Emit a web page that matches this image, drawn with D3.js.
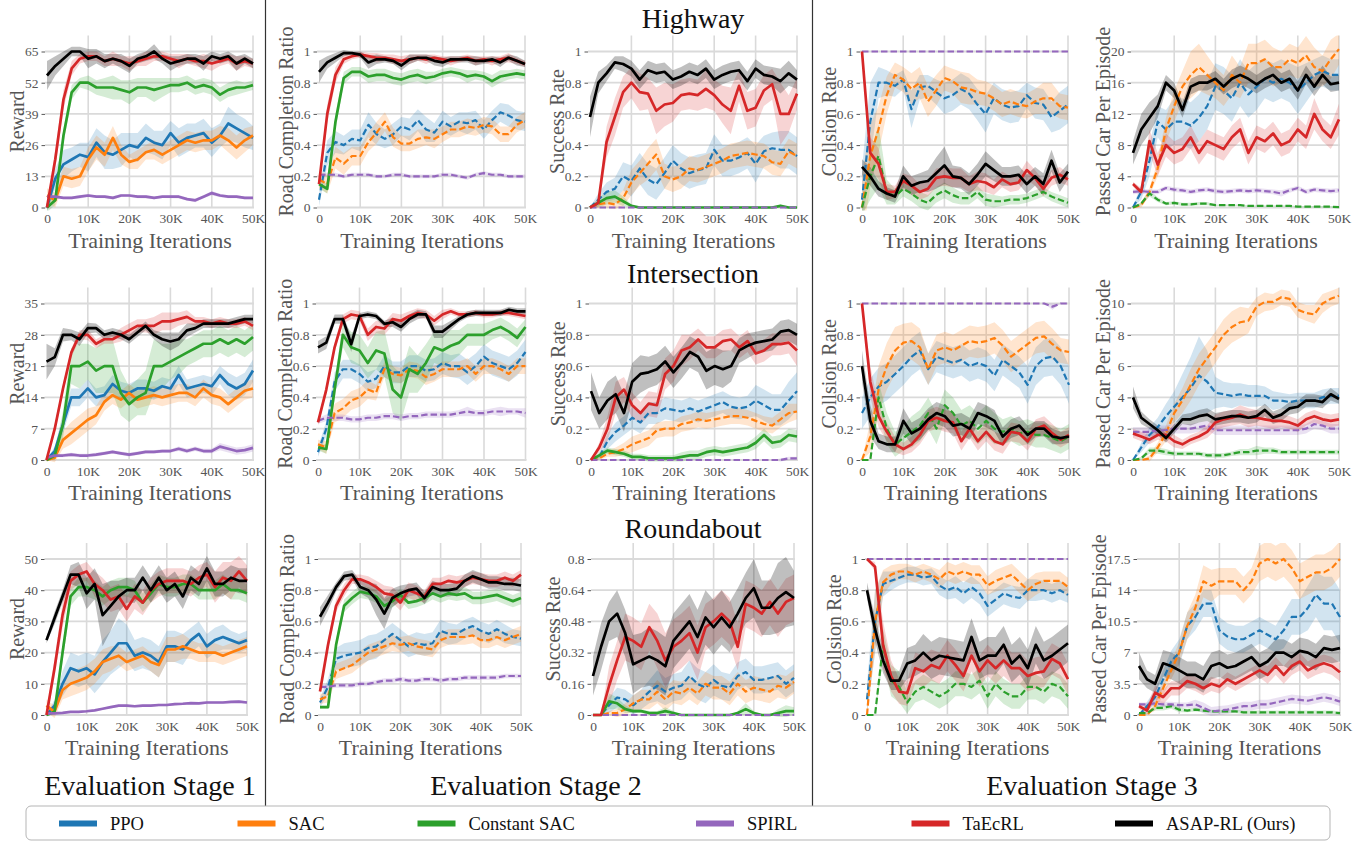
<!DOCTYPE html>
<html>
<head>
<meta charset="utf-8">
<script src="https://cdn.jsdelivr.net/npm/d3@7"></script>
<style>
  body { margin: 0; background: #fff; }
</style>
</head>
<body>
<svg id="fig" width="1364" height="842"></svg>
<script>
// training iterations (x values of every curve)
var iters = [0, 2000, 4000, 6000, 8000, 10000, 12000, 14000, 16000, 18000, 20000, 22000, 24000,
  26000, 28000, 30000, 32000, 34000, 36000, 38000, 40000, 42000, 44000, 46000, 48000, 50000];
var xTicks = [0, 10000, 20000, 30000, 40000, 50000];
var xTickLabels = ["0", "10K", "20K", "30K", "40K", "50K"];

var seriesKeys = ["PPO", "SAC", "CSAC", "SPIRL", "TaEcRL", "ASAP"];
var seriesNames = ["PPO", "SAC", "Constant SAC", "SPIRL", "TaEcRL", "ASAP-RL (Ours)"];
var seriesColors = ["#1f77b4", "#ff7f0e", "#2ca02c", "#9467bd", "#d62728", "#000000"];

var rewardTicksHwy = [0, 13, 26, 39, 52, 65];
var rewardTicksInt = [0, 7, 14, 21, 28, 35];
var rewardTicksRnd = [0, 10, 20, 30, 40, 50];
var ratioTicks = [0, 0.2, 0.4, 0.6, 0.8, 1];
var succTicksRnd = [0, 0.16, 0.32, 0.48, 0.64, 0.8];
var passTicksHwy = [0, 4, 8, 12, 16, 20];
var passTicksInt = [0, 2, 4, 6, 8, 10];
var passTicksRnd = [0, 3.5, 7, 10.5, 14, 17.5];

// ---------- Highway ----------
var hwyReward = {
  PPO: [0,12,18,20,22,21,27,23,22,24,26,25,29,27,26,31,27,29,30,31,27,30,35,33,31,29],
  SAC: [5,3,13,12,13,20,25,22,29,22,19,20,23,24,22,24,26,28,27,28,28,30,28,25,28,30],
  CSAC: [0,3,30,48,52,52,50,50,50,49,48,50,50,49,50,51,51,52,50,51,50,47,49,50,50,51],
  SPIRL: [4.5,4.5,4,4,4.5,5,4.5,4.5,4,5,5,4.5,4.5,4,4.5,4.5,4.5,3.5,3,4.5,6,5,4.5,4.5,4,4],
  TaEcRL: [0,20,45,58,62,63,63,61,62,61,60,61,62,63,63,62,61,62,61,61,60,61,62,60,61,60],
  ASAP: [55,59,62,65,65,62,63,61,62,61,59,62,63,65,62,60,61,62,62,60,63,62,63,60,62,60]
};
var hwyRewardBand = {
  PPO: [2,4,6,5,5,6,6,7,6,7,5,6,6,5,6,5,6,6,5,6,6,5,7,6,6,5],
  SAC: [3,3,4,4,4,5,5,5,5,4,3,4,3,4,4,4,4,4,4,4,4,4,5,5,5,4],
  CSAC: [2,2,3,3,2,3,3,4,5,4,5,4,4,5,4,3,3,3,3,3,3,3,3,3,2,2],
  SPIRL: [.8,.6,.5,.6,.7,.6,.5,.6,.7,.6,.5,.6,.7,.6,.5,.6,.7,.6,.8,.6,.9,.7,.6,.6,.6,.5],
  TaEcRL: [1,4,4,3,2,2,2,2,3,2,3,2,3,2,2,2,3,2,2,3,3,2,2,3,2,2],
  ASAP: [6,4,3,2,2,4,3,3,2,3,3,2,2,3,2,3,2,2,2,3,2,2,2,3,2,2]
};
var hwyRoad = {
  PPO: [.05,.35,.42,.40,.44,.43,.53,.47,.44,.47,.52,.50,.56,.50,.48,.55,.52,.55,.54,.56,.50,.56,.61,.59,.56,.55],
  SAC: [.18,.15,.32,.28,.33,.33,.42,.48,.55,.45,.41,.41,.44,.45,.44,.47,.50,.50,.52,.51,.53,.52,.47,.47,.53,.56],
  CSAC: [.15,.12,.55,.83,.87,.87,.84,.85,.85,.83,.82,.84,.85,.83,.84,.86,.87,.86,.84,.85,.84,.81,.84,.85,.86,.85],
  SPIRL: [.21,.21,.21,.20,.21,.21,.21,.20,.20,.21,.21,.20,.20,.20,.20,.21,.21,.20,.19,.21,.22,.21,.21,.20,.20,.20],
  TaEcRL: [.15,.6,.85,.95,.97,.98,.97,.96,.96,.95,.94,.95,.96,.95,.96,.95,.94,.95,.96,.94,.95,.94,.95,.96,.94,.92],
  ASAP: [.87,.93,.96,.99,.99,.98,.93,.95,.95,.94,.91,.95,.96,.96,.94,.93,.95,.95,.95,.94,.94,.95,.93,.96,.94,.92]
};
var hwyRoadBand = {
  PPO: [.04,.08,.07,.06,.06,.07,.08,.07,.06,.07,.06,.07,.07,.08,.06,.07,.06,.06,.07,.06,.06,.06,.06,.07,.06,.06],
  SAC: [.05,.06,.07,.07,.06,.06,.06,.07,.06,.06,.05,.05,.06,.05,.06,.05,.05,.05,.05,.05,.05,.05,.05,.05,.05,.05],
  CSAC: [.03,.03,.05,.04,.03,.03,.04,.04,.04,.04,.04,.04,.04,.04,.03,.03,.03,.03,.04,.03,.03,.04,.04,.03,.03,.03],
  SPIRL: [.012,.012,.012,.012,.012,.012,.012,.012,.012,.012,.012,.012,.012,.012,.012,.012,.012,.012,.012,.012,.012,.012,.012,.012,.012,.012],
  TaEcRL: [.03,.06,.05,.03,.02,.02,.02,.03,.02,.03,.03,.03,.02,.03,.02,.02,.03,.02,.02,.03,.02,.03,.02,.03,.02,.02],
  ASAP: [.07,.04,.03,.02,.01,.02,.04,.03,.02,.02,.03,.03,.02,.02,.03,.03,.02,.02,.02,.03,.02,.02,.03,.02,.03,.02]
};
var hwySucc = {
  PPO: [0,.05,.1,.12,.2,.17,.25,.18,.15,.22,.3,.25,.22,.24,.25,.37,.30,.30,.32,.35,.28,.36,.38,.37,.37,.33],
  SAC: [0,.02,.03,.02,.06,.16,.22,.28,.34,.2,.18,.2,.25,.24,.26,.28,.3,.33,.34,.35,.34,.33,.29,.28,.36,.33],
  CSAC: [0,.03,.06,.07,.04,.01,0,0,0,0,0,0,0,0,0,0,0,0,0,0,0,0,0,.01,0,0],
  SPIRL: [0,0,0,0,0,0,0,0,0,0,0,0,0,0,0,0,0,0,0,0,0,0,0,0,0,0],
  TaEcRL: [0,.03,.42,.58,.74,.8,.74,.73,.62,.66,.67,.72,.73,.72,.76,.72,.66,.62,.78,.62,.64,.75,.79,.6,.6,.73],
  ASAP: [.58,.8,.86,.93,.92,.89,.82,.88,.86,.87,.82,.84,.87,.85,.89,.82,.85,.87,.88,.81,.89,.85,.84,.81,.86,.82]
};
var hwySuccBand = {
  PPO: [0,.04,.06,.07,.09,.1,.1,.1,.1,.1,.1,.1,.1,.1,.1,.1,.1,.1,.1,.1,.12,.1,.1,.12,.12,.12],
  SAC: [0,.02,.03,.03,.05,.08,.08,.1,.1,.08,.08,.08,.08,.08,.08,.08,.08,.08,.08,.08,.08,.08,.08,.08,.08,.08],
  CSAC: [0,.03,.04,.04,.03,.01,0,0,0,0,0,0,0,0,0,0,0,0,0,0,0,0,0,.01,0,0],
  SPIRL: [0,0,0,0,0,0,0,0,0,0,0,0,0,0,0,0,0,0,0,0,0,0,0,0,0,0],
  TaEcRL: [0,.03,.1,.12,.1,.1,.12,.1,.15,.14,.12,.1,.1,.1,.12,.1,.12,.15,.1,.12,.12,.1,.1,.2,.12,.1],
  ASAP: [.13,.07,.05,.04,.05,.05,.06,.06,.06,.06,.06,.06,.06,.06,.06,.06,.06,.06,.06,.06,.06,.06,.06,.08,.08,.06]
};
var hwyColl = {
  PPO: [.05,.55,.8,.8,.78,.82,.63,.77,.78,.74,.7,.72,.76,.73,.66,.6,.7,.66,.64,.65,.72,.67,.66,.58,.62,.66],
  SAC: [0,.33,.5,.72,.85,.82,.76,.8,.68,.75,.83,.81,.77,.76,.74,.73,.7,.66,.68,.66,.65,.68,.7,.7,.65,.64],
  CSAC: [0,.2,.33,.1,.07,.12,.09,.05,.03,.08,.11,.08,.06,.06,.1,.05,.04,.04,.05,.05,.06,.08,.1,.07,.05,.03],
  SPIRL: [1,1,1,1,1,1,1,1,1,1,1,1,1,1,1,1,1,1,1,1,1,1,1,1,1,1],
  TaEcRL: [1,.35,.28,.1,.1,.17,.14,.1,.12,.19,.2,.19,.19,.15,.17,.16,.13,.18,.15,.16,.24,.19,.12,.19,.21,.18],
  ASAP: [.26,.2,.12,.09,.07,.2,.14,.16,.17,.22,.27,.2,.19,.15,.21,.28,.24,.2,.2,.21,.15,.2,.15,.3,.16,.23]
};
var hwyCollBand = {
  PPO: [.2,.25,.1,.08,.07,.06,.12,.08,.07,.08,.1,.1,.1,.1,.1,.12,.1,.1,.1,.1,.08,.1,.1,.1,.12,.12],
  SAC: [.2,.2,.15,.12,.08,.08,.1,.1,.1,.1,.08,.08,.1,.1,.08,.08,.08,.08,.08,.08,.08,.08,.1,.1,.08,.08],
  CSAC: [.05,.15,.2,.08,.05,.05,.05,.05,.05,.05,.05,.05,.04,.04,.04,.04,.04,.03,.03,.03,.03,.03,.03,.03,.03,.03],
  SPIRL: [0,0,0,0,0,0,0,0,0,0,0,0,0,0,0,0,0,0,0,0,0,0,0,0,0,0],
  TaEcRL: [0,.1,.1,.05,.04,.05,.06,.05,.05,.06,.06,.06,.06,.05,.06,.06,.05,.05,.05,.05,.06,.05,.05,.05,.05,.04],
  ASAP: [.05,.06,.05,.04,.04,.07,.06,.06,.07,.1,.12,.07,.07,.07,.07,.08,.07,.06,.06,.06,.06,.06,.07,.07,.06,.05]
};
var hwyPass = {
  PPO: [0,2,6,11,10,11,11,10.5,11.5,13,15.5,15,14,16,14.5,15.5,16.5,16,16.5,16,15,16,17,17.5,17,17],
  SAC: [0,.3,2,5,10,13,15.5,17,18,17,16,15,17,16,18.5,18.5,19,18,18,19,18.5,19.5,18,17.5,19,20.3],
  CSAC: [0,.5,1.8,1,.5,.6,.4,.4,.5,.5,.3,.3,.3,.3,.2,.2,.2,.2,.2,.2,.1,.1,.1,.1,.1,.05],
  SPIRL: [2,2.1,2,2,2.5,2.3,2.2,2,2.2,2.3,2.1,2,2.1,2.2,2.1,2.2,2.1,2,1.8,2.2,2.5,2,2.3,2.2,2.1,2.2],
  TaEcRL: [3,2,8.5,5.5,8,7,7.5,9,7,8.5,8,7.5,9,10,7,9,8.5,9.5,8,8.5,10,9,12,10,9,11.3],
  ASAP: [7,10,11.5,13,16,15,12.5,15.5,16,16,16.5,15.5,16.5,17,16.5,15.8,16.5,17,16,16.5,15,17,15.5,17,15.8,16]
};
var hwyPassBand = {
  PPO: [0,1,2,2,2.5,3,3,3,3,3,3,3,3,3,3,3,2.5,2.5,2.5,2.5,3,2.5,2,2,2,2],
  SAC: [0,.3,.5,1,1.5,2,2,3,3,2.5,2,2,2.5,2,2.5,2.5,2.5,2.5,2,2,2,2.5,2.5,2,2.5,2],
  CSAC: [0,.2,.4,.3,.2,.2,.2,.2,.2,.2,.1,.1,.1,.1,.1,.1,.1,.1,.1,.1,.1,.1,.1,.1,.1,.1],
  SPIRL: [.3,.3,.3,.3,.3,.3,.3,.3,.3,.3,.3,.3,.3,.3,.3,.3,.3,.3,.4,.3,.3,.3,.3,.3,.3,.3],
  TaEcRL: [.3,.5,1.5,1.5,1.5,1.5,1.5,1.5,1.5,1.5,1.5,1.5,1.5,1.5,1.5,1.5,1.5,1.5,1.5,1.5,1.5,1.5,2,1.5,1.5,2],
  ASAP: [1.5,2,2,1.5,1,1,1,1,1,1,1,1,1.2,1.2,1.2,1.2,1.2,1.2,1.2,1.2,1.2,1.2,1.2,1.2,1,1]
};

// ---------- Intersection ----------
var intReward = {
  PPO: [0,2,8,14,14,16,14,14.5,17,15.5,15,16,16,15.5,16.5,16,19,16,16.5,17,16.5,19,17,16,17,20],
  SAC: [0,.5,4.5,6,7.5,9,10,13,14.5,13.5,15,13.5,14,14.5,14,14.5,15,15,14,16,14.5,14,12.5,14,15.5,16],
  CSAC: [0,1,8,21,21,22,20,21,21,15,12.5,14,15,21,21,22,23,24,25,26,26,27,26,27,26,27.5],
  SPIRL: [.5,1,1,1.2,1,1,1.2,1.5,1.8,1.5,1.2,1.5,1.8,1.8,2,2,2.5,2,2.5,2,2,3,2.5,2,2.2,2.7],
  TaEcRL: [0,7,16,24,28,28,26,27,27,28,29,30,30,30,31,31,31.5,32,31,31,30.5,31,30.5,30.5,31,30],
  ASAP: [22,23,28,28,27,29.5,29.5,28,28.5,28,27,28.5,30,28,27,26.5,27,29,29.5,30.5,30.5,30.5,30.5,31,31.5,31.5]
};
var intRewardBand = {
  PPO: [0,1,2,2,2,2,2,2,2,2,2,2,2,2,2,2,2,2,2,2,2,2,2.5,2.5,2.5,2.5],
  SAC: [0,1,2,2.5,2.5,2.5,2,2,2,2,2,2,2,2,2,2,2,2,2,2,2,2,2,2,2,2],
  CSAC: [0,1,3,4,5,4,5,6,6,5,4,4,5,6,5,4,4,3,3,3,3,3,3,3,3,3],
  SPIRL: [.3,.4,.4,.4,.4,.4,.4,.4,.4,.4,.4,.4,.4,.4,.4,.4,.5,.5,.5,.5,.5,.8,.8,.8,.8,.8],
  TaEcRL: [0,1,1,1,1,1.2,1,1,1,1.5,1.5,1.5,1.5,2,2,2,1.5,1.5,1,1,1,1,1,1,1,1],
  ASAP: [4,2,1.5,1.2,1.5,1.2,1,1,1,1,1,1,1,1,1.5,2,1.5,1.5,1,1,1,1,1,1,1,1]
};
var intRoad = {
  PPO: [.05,.2,.5,.58,.58,.55,.5,.52,.6,.56,.56,.6,.6,.57,.58,.62,.6,.6,.56,.6,.66,.62,.6,.58,.62,.69],
  SAC: [.1,.08,.3,.33,.38,.4,.45,.43,.58,.55,.54,.58,.57,.53,.55,.58,.58,.58,.6,.55,.6,.6,.58,.55,.6,.6],
  CSAC: [.08,.07,.45,.8,.72,.7,.62,.7,.68,.45,.4,.58,.55,.62,.72,.7,.73,.75,.8,.8,.8,.83,.85,.82,.78,.85],
  SPIRL: [.25,.27,.27,.27,.26,.26,.27,.27,.28,.28,.27,.28,.28,.29,.29,.29,.29,.3,.31,.3,.3,.31,.31,.31,.31,.3],
  TaEcRL: [.24,.45,.72,.9,.93,.92,.8,.85,.84,.9,.89,.92,.94,.93,.89,.93,.95,.93,.93,.94,.93,.93,.94,.94,.93,.92],
  ASAP: [.72,.75,.9,.9,.74,.92,.93,.92,.87,.88,.85,.9,.93,.93,.82,.82,.86,.9,.93,.94,.94,.94,.94,.96,.95,.95]
};
var intRoadBand = {
  PPO: [.03,.05,.06,.06,.06,.06,.06,.06,.07,.07,.07,.07,.07,.07,.07,.07,.07,.08,.08,.08,.08,.08,.08,.08,.08,.08],
  SAC: [.03,.04,.06,.06,.06,.06,.06,.05,.05,.05,.05,.05,.05,.05,.05,.05,.05,.05,.05,.05,.05,.05,.05,.05,.05,.05],
  CSAC: [.02,.03,.06,.08,.1,.1,.1,.12,.15,.15,.15,.15,.12,.12,.1,.1,.1,.08,.07,.07,.07,.06,.06,.06,.06,.05],
  SPIRL: [.02,.02,.02,.02,.02,.02,.02,.02,.02,.02,.02,.02,.02,.02,.02,.02,.02,.02,.03,.02,.02,.02,.03,.02,.02,.03],
  TaEcRL: [.02,.03,.03,.03,.03,.03,.04,.04,.04,.04,.04,.03,.03,.03,.03,.03,.02,.02,.02,.02,.02,.02,.02,.02,.02,.02],
  ASAP: [.04,.04,.03,.03,.05,.02,.02,.02,.02,.03,.03,.03,.03,.02,.04,.04,.03,.02,.02,.02,.02,.02,.02,.02,.02,.02]
};
var intSucc = {
  PPO: [0,.02,.12,.18,.22,.27,.24,.3,.3,.33,.32,.31,.33,.31,.33,.35,.37,.34,.33,.34,.38,.35,.32,.32,.38,.44],
  SAC: [0,.01,.04,.05,.07,.1,.12,.14,.19,.2,.2,.23,.24,.26,.25,.26,.27,.28,.28,.27,.25,.23,.22,.26,.3,.31],
  CSAC: [0,.03,.06,.05,.04,.02,.02,.01,.01,.01,.01,.02,.03,.03,.05,.06,.05,.06,.07,.08,.11,.16,.11,.12,.16,.15],
  SPIRL: [0,0,0,0,0,0,0,0,0,0,0,0,0,0,0,0,0,0,0,0,0,0,0,0,.01,.01],
  TaEcRL: [0,.08,.2,.4,.45,.35,.3,.36,.35,.55,.6,.7,.72,.77,.72,.72,.76,.77,.72,.76,.68,.7,.74,.74,.75,.7],
  ASAP: [.44,.3,.38,.42,.3,.5,.55,.56,.58,.63,.56,.62,.69,.66,.57,.6,.58,.6,.7,.73,.75,.76,.77,.82,.83,.8]
};
var intSuccBand = {
  PPO: [0,.02,.05,.06,.06,.07,.07,.07,.07,.07,.07,.07,.07,.07,.07,.07,.07,.07,.07,.07,.1,.1,.1,.1,.12,.12],
  SAC: [0,.01,.02,.03,.04,.05,.05,.05,.05,.05,.05,.05,.05,.05,.05,.05,.05,.05,.05,.05,.05,.05,.05,.05,.06,.05],
  CSAC: [0,.02,.02,.02,.02,.02,.02,.02,.02,.02,.02,.03,.03,.03,.03,.03,.03,.03,.03,.03,.04,.04,.04,.04,.04,.04],
  SPIRL: [0,0,0,0,0,0,0,0,0,0,0,0,0,0,0,0,0,0,0,0,0,0,0,.01,.01,.01],
  TaEcRL: [0,.03,.08,.1,.08,.08,.07,.08,.08,.1,.1,.1,.08,.07,.07,.07,.07,.07,.07,.07,.07,.07,.07,.07,.07,.1],
  ASAP: [.12,.1,.12,.12,.12,.12,.12,.1,.1,.1,.1,.1,.1,.1,.12,.12,.12,.1,.08,.08,.07,.07,.07,.07,.07,.07]
};
var intColl = {
  PPO: [.3,.4,.47,.5,.55,.6,.66,.7,.58,.66,.64,.62,.64,.6,.62,.6,.54,.64,.6,.56,.48,.6,.65,.66,.6,.48],
  SAC: [0,.15,.45,.6,.7,.75,.76,.72,.58,.7,.72,.7,.73,.76,.75,.76,.78,.73,.66,.7,.74,.78,.79,.74,.7,.69],
  CSAC: [0,0,.4,.2,.1,.14,.18,.22,.3,.2,.35,.3,.22,.25,.2,.25,.2,.18,.2,.17,.18,.16,.16,.14,.12,.15],
  SPIRL: [1,1,1,1,1,1,1,1,1,1,1,1,1,1,1,1,1,1,1,1,1,1,1,.98,1,1],
  TaEcRL: [1,.5,.28,.18,.1,.07,.1,.16,.25,.27,.25,.24,.12,.2,.12,.18,.12,.1,.18,.17,.12,.2,.22,.17,.13,.16],
  ASAP: [.6,.25,.12,.1,.1,.25,.17,.2,.26,.3,.28,.22,.23,.2,.3,.28,.25,.15,.2,.22,.16,.2,.2,.15,.14,.15]
};
var intCollBand = {
  PPO: [.1,.12,.12,.12,.12,.12,.12,.12,.1,.1,.1,.1,.1,.1,.1,.1,.1,.1,.1,.1,.12,.12,.12,.12,.12,.12],
  SAC: [0,.1,.15,.15,.15,.12,.12,.12,.1,.1,.1,.1,.1,.1,.1,.1,.1,.1,.1,.1,.1,.1,.1,.1,.08,.08],
  CSAC: [0,0,.1,.1,.08,.08,.1,.1,.1,.1,.1,.1,.1,.1,.1,.1,.1,.08,.08,.08,.08,.08,.08,.08,.08,.08],
  SPIRL: [0,0,0,0,0,0,0,0,0,0,0,0,0,0,0,0,0,0,0,0,0,0,0,.02,0,0],
  TaEcRL: [0,.1,.07,.06,.05,.04,.05,.06,.07,.07,.07,.07,.06,.06,.06,.06,.06,.06,.06,.06,.06,.06,.06,.06,.05,.05],
  ASAP: [.1,.1,.05,.05,.05,.08,.07,.07,.07,.07,.07,.07,.07,.07,.07,.07,.07,.06,.06,.06,.06,.05,.05,.05,.04,.04]
};
var intPass = {
  PPO: [0,.8,1.6,2.1,2.8,3.4,4,4.6,5.4,5,4.3,4.2,4.1,4.2,4.1,4.1,4.1,3.8,3.8,3.7,3.8,3.8,3.8,4,4.1,4.1],
  SAC: [0,0,.1,.8,1.7,3,3.8,4.8,5.8,6.5,7.2,8,8.5,8.8,8.9,9.8,10.1,10.1,10.4,10.3,9.6,9.4,9.3,10,10.3,10.5],
  CSAC: [0,.1,.6,.6,.5,.4,.4,.4,.4,.3,.3,.3,.4,.5,.5,.6,.6,.6,.5,.5,.5,.5,.5,.5,.5,.5],
  SPIRL: [1.8,1.8,1.8,1.9,1.9,2,2,2,2.1,2.2,1.9,1.9,1.9,1.9,1.9,1.9,1.9,1.9,1.9,1.9,1.9,2,2.3,2.2,2,2],
  TaEcRL: [1.7,1.5,1.3,1.6,1.6,1.2,1,1.3,1.5,1.8,2.4,2.6,2.7,2.9,2.7,2.7,2.6,2.5,2.5,2.4,2.2,2.6,2.8,2.6,2.5,2.6],
  ASAP: [4,2.7,2.3,1.9,1.4,2,2.6,2.6,2.8,2.9,2.6,2.7,2.8,2.8,2.7,2.8,3.2,2.7,2.9,3.3,3.4,3.8,3.8,3.7,4.2,3.9]
};
var intPassBand = {
  PPO: [0,.3,.5,.6,.8,1,1.5,2,2.5,2,1,.8,.8,.7,.7,.7,.6,.6,.5,.5,.5,.5,.5,.5,.5,.5],
  SAC: [0,0,.2,.3,.5,.6,.8,1,1,1,1,1,1,1,.8,.6,.6,.5,.5,.5,.5,.5,.6,.6,.5,.5],
  CSAC: [0,.1,.2,.2,.2,.15,.15,.15,.15,.15,.15,.15,.15,.2,.2,.3,.2,.2,.15,.15,.15,.15,.15,.15,.15,.15],
  SPIRL: [.3,.3,.3,.3,.3,.3,.3,.3,.3,.3,.3,.3,.3,.3,.3,.3,.3,.3,.3,.3,.3,.3,.3,.3,.3,.3],
  TaEcRL: [.3,.3,.3,.3,.4,.4,.3,.3,.3,.4,.5,.5,.5,.6,.6,.5,.5,.5,.4,.4,.4,.4,.4,.4,.4,.4],
  ASAP: [.7,.4,.3,.3,.3,.3,.3,.4,.4,.4,.4,.4,.4,.4,.4,.4,.4,.4,.4,.4,.4,.4,.4,.4,.4,.3]
};

// ---------- Roundabout ----------
var rndReward = {
  PPO: [0,3,10,15,14,15,13,17,20,23,23,19,20,19,17,22,22,21,24,26,22,24,25,24,23,24],
  SAC: [3,1,8,10,11,12,14,17,18,19,17,18,19,17,16,21,21,22,21,20,20,20,19,20,21,22],
  CSAC: [0,1,20,38,41,41,40,38,40,41,41,40,36,39,42,41,41,42,42,40,40,40,42,40,40,39],
  SPIRL: [.5,.5,.7,1,1,1.2,1.5,2,2.5,3,3,2.8,3,3,3.2,3.2,3.5,3.6,3.8,3.7,4,4,4,4.2,4.3,4],
  TaEcRL: [0,15,32,43,45,46,42,40,37,38,34,38,36,40,42,43,43,43,42,44,45,41,44,43,46,43],
  ASAP: [24,31,38,45,45,39,42,32,35,38,40,40,44,40,44,40,42,38,44,42,47,42,42,44,43,43]
};
var rndRewardBand = {
  PPO: [0,2,4,5,5,5,6,7,7,8,6,5,5,5,5,5,5,5,4,4,4,4,4,3,3,3],
  SAC: [2,2,3,4,4,4,4,4,4,3,3,3,3,3,4,4,4,4,3,3,3,3,3,3,3,3],
  CSAC: [0,1,3,3,3,3,3,3,3,3,3,3,3,3,3,3,3,3,3,3,3,3,3,3,3,3],
  SPIRL: [.2,.2,.3,.3,.3,.3,.3,.3,.3,.4,.4,.4,.4,.4,.4,.4,.4,.4,.4,.4,.4,.4,.4,.4,.4,.4],
  TaEcRL: [1,3,4,3,3,3,4,4,4,4,4,4,4,4,4,4,4,4,4,4,4,5,5,6,5,5],
  ASAP: [1,2,2,3,4,5,5,10,8,5,4,4,4,4,4,4,4,4,4,4,4,4,4,4,4,4]
};
var rndRoad = {
  PPO: [.08,.18,.36,.38,.39,.4,.43,.44,.48,.52,.48,.44,.46,.45,.46,.54,.52,.52,.55,.57,.54,.52,.55,.52,.5,.49],
  SAC: [.1,.12,.28,.3,.32,.36,.4,.42,.44,.46,.45,.46,.44,.43,.42,.48,.5,.5,.5,.51,.48,.48,.5,.48,.5,.52],
  CSAC: [.05,.05,.45,.7,.75,.79,.78,.76,.7,.73,.77,.72,.73,.75,.78,.76,.78,.77,.78,.75,.75,.76,.77,.75,.73,.75],
  SPIRL: [.18,.18,.19,.19,.19,.2,.2,.21,.22,.22,.23,.22,.22,.23,.23,.22,.23,.23,.24,.24,.24,.24,.24,.25,.25,.25],
  TaEcRL: [.15,.45,.7,.8,.87,.87,.85,.82,.78,.77,.72,.8,.78,.76,.84,.84,.86,.85,.86,.88,.87,.86,.86,.88,.86,.9],
  ASAP: [.63,.72,.82,.89,.9,.82,.8,.74,.65,.75,.78,.8,.81,.75,.82,.8,.8,.81,.86,.89,.87,.85,.85,.84,.84,.83]
};
var rndRoadBand = {
  PPO: [.03,.05,.07,.08,.08,.08,.08,.08,.07,.07,.07,.07,.07,.07,.07,.07,.07,.06,.06,.06,.06,.06,.06,.06,.05,.05],
  SAC: [.03,.04,.05,.05,.05,.05,.05,.05,.05,.05,.05,.05,.05,.05,.05,.05,.05,.05,.05,.05,.05,.05,.05,.05,.05,.05],
  CSAC: [.01,.01,.03,.04,.04,.04,.04,.04,.04,.04,.04,.04,.04,.04,.04,.04,.04,.04,.04,.04,.04,.04,.04,.04,.04,.04],
  SPIRL: [.015,.015,.015,.015,.015,.015,.015,.015,.015,.015,.015,.015,.015,.015,.015,.015,.015,.015,.015,.015,.015,.015,.015,.015,.015,.015],
  TaEcRL: [.02,.04,.04,.04,.03,.03,.04,.04,.05,.05,.05,.05,.05,.04,.04,.04,.04,.04,.04,.04,.04,.04,.04,.04,.04,.03],
  ASAP: [.06,.05,.03,.03,.03,.04,.05,.1,.1,.06,.05,.04,.04,.04,.04,.04,.04,.04,.04,.04,.04,.04,.04,.04,.04,.04]
};
var rndSucc = {
  PPO: [0,0,.05,.09,.08,.05,.08,.12,.15,.12,.14,.15,.2,.16,.14,.18,.15,.14,.2,.22,.18,.18,.19,.2,.16,.19],
  SAC: [0,0,.01,.01,.03,.06,.08,.08,.12,.08,.12,.11,.14,.11,.16,.14,.14,.11,.16,.12,.14,.13,.12,.15,.14,.17],
  CSAC: [0,0,.07,.06,.03,.02,.02,.01,.01,.02,.01,0,0,0,0,0,0,0,.01,.03,.01,0,0,.01,.02,.02],
  SPIRL: [0,0,0,0,0,0,0,0,0,0,0,0,0,0,0,0,0,0,0,0,0,0,0,0,0,0],
  TaEcRL: [0,0,.15,.28,.4,.38,.35,.45,.38,.28,.35,.38,.42,.32,.45,.48,.52,.48,.35,.57,.55,.52,.58,.52,.58,.6],
  ASAP: [.2,.35,.48,.52,.42,.26,.28,.3,.28,.25,.38,.43,.48,.4,.5,.45,.5,.45,.52,.6,.65,.55,.55,.6,.63,.6]
};
var rndSuccBand = {
  PPO: [0,0,.04,.05,.05,.05,.05,.06,.08,.07,.07,.07,.08,.08,.08,.08,.07,.07,.07,.07,.07,.07,.07,.07,.07,.07],
  SAC: [0,0,.01,.02,.03,.04,.05,.05,.06,.06,.06,.06,.06,.06,.06,.06,.06,.06,.06,.06,.06,.06,.06,.06,.06,.06],
  CSAC: [0,0,.04,.03,.02,.01,.01,.01,.01,.02,.01,0,0,0,0,0,0,0,.01,.03,.01,0,0,.02,.03,.02],
  SPIRL: [0,0,0,0,0,0,0,0,0,0,0,0,0,0,0,0,0,0,0,0,0,0,0,0,0,0],
  TaEcRL: [0,0,.1,.1,.12,.12,.12,.12,.14,.14,.14,.14,.14,.14,.12,.12,.12,.12,.12,.12,.12,.12,.12,.12,.12,.12],
  ASAP: [.1,.12,.1,.12,.12,.15,.14,.15,.15,.15,.14,.14,.14,.14,.14,.14,.14,.13,.13,.13,.15,.14,.14,.18,.18,.14]
};
var rndColl = {
  PPO: [.1,.6,.84,.86,.88,.9,.9,.88,.89,.83,.8,.82,.78,.82,.78,.7,.74,.78,.76,.75,.8,.8,.8,.78,.8,.77],
  SAC: [0,.6,.85,.9,.92,.92,.9,.92,.9,.87,.92,.9,.92,.9,.9,.83,.86,.88,.9,.85,.8,.84,.86,.86,.86,.82],
  CSAC: [0,0,.45,.22,.18,.08,.15,.18,.15,.12,.15,.2,.2,.18,.22,.12,.2,.15,.12,.12,.18,.18,.15,.2,.18,.12],
  SPIRL: [1,1,1,1,1,1,1,1,1,1,1,1,1,1,1,1,1,1,1,1,1,1,1,1,1,1],
  TaEcRL: [1,.95,.45,.25,.15,.14,.3,.28,.32,.3,.38,.32,.25,.38,.28,.35,.3,.35,.3,.3,.25,.27,.28,.36,.33,.23],
  ASAP: [.8,.55,.35,.22,.22,.33,.35,.4,.35,.38,.37,.36,.35,.5,.35,.38,.38,.45,.33,.38,.3,.45,.35,.38,.42,.46]
};
var rndCollBand = {
  PPO: [.1,.2,.08,.06,.05,.05,.05,.05,.05,.06,.06,.07,.07,.07,.07,.07,.07,.07,.07,.07,.07,.07,.06,.06,.06,.05],
  SAC: [0,.2,.08,.06,.05,.05,.05,.05,.05,.06,.06,.06,.06,.06,.06,.06,.07,.07,.07,.07,.07,.07,.06,.06,.06,.06],
  CSAC: [0,0,.1,.1,.1,.07,.07,.08,.08,.08,.08,.08,.08,.08,.08,.08,.08,.08,.08,.08,.08,.08,.08,.08,.08,.08],
  SPIRL: [0,0,0,0,0,0,0,0,0,0,0,0,0,0,0,0,0,0,0,0,0,0,0,0,0,0],
  TaEcRL: [0,.03,.15,.1,.08,.08,.1,.1,.1,.1,.1,.1,.1,.1,.1,.1,.1,.1,.1,.1,.1,.1,.1,.1,.1,.1],
  ASAP: [.05,.08,.08,.06,.06,.1,.1,.12,.12,.12,.12,.12,.12,.12,.12,.12,.12,.12,.12,.12,.12,.12,.12,.12,.12,.12]
};
var rndPass = {
  PPO: [0,1,2,4,6,7,10,11,12.5,12.5,9.5,8.8,8.5,8.5,9,9.5,9,8.5,9.5,11,11,12,13.5,12.5,12.5,11],
  SAC: [0,0,1,3,5,7,10,12,15,14.5,15,15,15,14,15,17,17.5,17,17.5,16.5,15,15.5,16,16,16.5,17.5],
  CSAC: [.2,.2,.8,.8,1,.6,.5,.6,.5,.4,.4,.4,.4,.3,.3,.3,.3,.3,.3,.3,.3,.3,.3,.3,.3,.2],
  SPIRL: [1.2,1.2,1.3,1.2,1.2,1.1,1.1,1.2,.8,.4,.5,.6,.8,1,1,1.2,1.2,1.4,1.6,1.8,1.7,1.6,1.8,2,1.8,1.5],
  TaEcRL: [1,.5,2.5,2,3,3,3.8,3.5,3,3.5,3.2,4,3.5,4,4.5,5,4.5,5.5,4.5,5.5,6,5,5.5,5.8,5.5,4.8],
  ASAP: [5.5,4,3.5,5.8,5.5,5,4.5,4.5,4,5.5,5.8,5.3,5.5,6,6.5,5.5,6,7,7,6.5,7.2,7,6.5,7.5,7.3,7.5]
};
var rndPassBand = {
  PPO: [0,.5,.8,1,1.2,1.5,1.5,1.5,1.5,1.5,1.5,1.5,1.5,1.5,1.5,1.5,1.5,1.5,2,2,2,2.5,2.5,3,3,3],
  SAC: [0,0,.5,.8,1,1.2,1.5,1.5,1.8,1.8,1.5,1.5,1.5,1.5,1.5,2,2,2,2,2,2,2,2,2,2,2],
  CSAC: [.1,.1,.3,.3,.3,.3,.2,.2,.2,.2,.2,.2,.2,.2,.2,.2,.2,.2,.2,.2,.2,.2,.2,.2,.2,.2],
  SPIRL: [.2,.2,.3,.3,.3,.3,.3,.5,.6,.5,.5,.5,.5,.5,.5,.5,.5,.5,.5,.5,.5,.5,.5,.5,.5,.5],
  TaEcRL: [.3,.5,.8,.8,.8,.8,.8,.8,.8,.8,.8,.8,.8,.8,.8,.8,1,1,1,1,1,1,1,1,1,1],
  ASAP: [1.5,1,1,1.5,1.5,1.5,1.5,1.5,1.5,1.5,1.5,1.5,1.5,1.5,1.5,1.5,1.5,1.5,1.5,1.5,1.5,1.5,1.5,1.5,1.5,1.5]
};

// ---------- layout ----------
var serif = "'Liberation Serif', 'DejaVu Serif', serif";
var rowTickY = [51.5, 303.5, 559];
var rowBottom = [207.5, 460, 715];
var colX = [
  [[47, 253], [319, 525], [590, 797], [862, 1068], [1133, 1339]],
  [[46.5, 253], [318, 525.5], [591, 797], [862, 1069], [1133, 1339]],
  [[46.5, 247], [320, 521], [593, 794], [867, 1068], [1139, 1340]]
];
var dashedByCol = [[], ["PPO", "SAC", "SPIRL"], ["PPO", "SAC", "SPIRL"],
  ["PPO", "SAC", "CSAC", "SPIRL"], ["PPO", "SAC", "CSAC", "SPIRL"]];
var yLabels = ["Reward", "Road Completion Ratio", "Success Rate", "Collsion Rate", "Passed Car Per Episode"];

var panels = [
  { row: 0, col: 0, ticks: rewardTicksHwy, mean: hwyReward, band: hwyRewardBand },
  { row: 0, col: 1, ticks: ratioTicks, mean: hwyRoad, band: hwyRoadBand },
  { row: 0, col: 2, ticks: ratioTicks, mean: hwySucc, band: hwySuccBand },
  { row: 0, col: 3, ticks: ratioTicks, mean: hwyColl, band: hwyCollBand },
  { row: 0, col: 4, ticks: passTicksHwy, mean: hwyPass, band: hwyPassBand },
  { row: 1, col: 0, ticks: rewardTicksInt, mean: intReward, band: intRewardBand },
  { row: 1, col: 1, ticks: ratioTicks, mean: intRoad, band: intRoadBand },
  { row: 1, col: 2, ticks: ratioTicks, mean: intSucc, band: intSuccBand },
  { row: 1, col: 3, ticks: ratioTicks, mean: intColl, band: intCollBand },
  { row: 1, col: 4, ticks: passTicksInt, mean: intPass, band: intPassBand },
  { row: 2, col: 0, ticks: rewardTicksRnd, mean: rndReward, band: rndRewardBand },
  { row: 2, col: 1, ticks: ratioTicks, mean: rndRoad, band: rndRoadBand },
  { row: 2, col: 2, ticks: succTicksRnd, mean: rndSucc, band: rndSuccBand },
  { row: 2, col: 3, ticks: ratioTicks, mean: rndColl, band: rndCollBand },
  { row: 2, col: 4, ticks: passTicksRnd, mean: rndPass, band: rndPassBand }
];

var svg = d3.select("#fig");
svg.append("rect").attr("width", 1364).attr("height", 842).attr("fill", "#fff");
var defs = svg.append("defs");

panels.forEach(function (p, i) {
  var x0 = colX[p.row][p.col][0], x1 = colX[p.row][p.col][1];
  var bottom = rowBottom[p.row], tickY = rowTickY[p.row], top = tickY - 16;

  var x = d3.scaleLinear().domain([0, 50000]).range([x0, x1]);
  var y = d3.scaleLinear().domain([0, p.ticks[p.ticks.length - 1]]).range([bottom, tickY]);

  var g = svg.append("g");

  // grid
  g.append("g").selectAll("line").data(p.ticks).enter().append("line")
    .attr("x1", x0 - 2).attr("x2", x1 + 1)
    .attr("y1", function (d) { return y(d); }).attr("y2", function (d) { return y(d); })
    .attr("stroke", "#dadada").attr("stroke-width", 1.8);
  g.append("g").selectAll("line").data(xTicks.slice(1)).enter().append("line")
    .attr("x1", function (d) { return x(d); }).attr("x2", function (d) { return x(d); })
    .attr("y1", top).attr("y2", bottom)
    .attr("stroke", "#dadada").attr("stroke-width", 1.6);

  defs.append("clipPath").attr("id", "clip" + i).append("rect")
    .attr("x", x0 - 2).attr("y", top).attr("width", x1 - x0 + 4).attr("height", bottom - top + 3);
  var plot = g.append("g").attr("clip-path", "url(#clip" + i + ")");

  var dashed = dashedByCol[p.col];

  // bands
  seriesKeys.forEach(function (k, s) {
    var m = p.mean[k], b = p.band[k];
    var area = d3.area()
      .x(function (d, j) { return x(iters[j]); })
      .y0(function (d, j) { return y(m[j] - b[j]); })
      .y1(function (d, j) { return y(m[j] + b[j]); });
    plot.append("path").datum(m)
      .attr("d", area)
      .attr("fill", seriesColors[s])
      .attr("fill-opacity", k === "ASAP" ? 0.25 : 0.2)
      .attr("stroke", "none");
  });

  // mean curves
  seriesKeys.forEach(function (k, s) {
    var isDash = dashed.indexOf(k) >= 0;
    var line = d3.line()
      .x(function (d, j) { return x(iters[j]); })
      .y(function (d) { return y(d); });
    plot.append("path").datum(p.mean[k])
      .attr("d", line)
      .attr("fill", "none")
      .attr("stroke", seriesColors[s])
      .attr("stroke-width", isDash ? 2.2 : 2.7)
      .attr("stroke-linejoin", "round")
      .attr("stroke-dasharray", isDash ? "6.5,3" : null);
  });

  // axes
  var ya = g.append("g").attr("transform", "translate(" + (x0 - 2) + ",0)")
    .call(d3.axisLeft(y).tickValues(p.ticks).tickFormat(function (d) { return String(d); })
      .tickSize(3.5).tickPadding(3));
  ya.select(".domain").remove();
  ya.selectAll("line").attr("stroke", "#555");
  ya.selectAll("text").attr("font-family", serif).attr("font-size", 13.5).attr("fill", "#555");

  var xa = g.append("g").attr("transform", "translate(0," + bottom + ")")
    .call(d3.axisBottom(x).tickValues(xTicks).tickFormat(function (d, j) { return xTickLabels[j]; })
      .tickSize(0).tickPadding(6));
  xa.select(".domain").remove();
  xa.selectAll("text").attr("font-family", serif).attr("font-size", 13.5).attr("fill", "#555");

  g.append("text")
    .attr("x", (x0 + x1) / 2).attr("y", bottom + 40)
    .attr("text-anchor", "middle")
    .attr("font-family", serif).attr("font-size", 22).attr("fill", "#555")
    .text("Training Iterations");

  var bb = ya.node().getBBox();
  var lx = x0 - 2 + bb.x - 1;
  g.append("text")
    .attr("transform", "translate(" + lx + "," + ((top + bottom) / 2) + ") rotate(-90)")
    .attr("text-anchor", "middle")
    .attr("font-family", serif).attr("font-size", 20).attr("fill", "#555")
    .text(yLabels[p.col]);
});

// scenario titles
var titles = ["Highway", "Intersection", "Roundabout"];
var titleY = [28, 283, 538];
titles.forEach(function (t, r) {
  svg.append("text").attr("x", 693).attr("y", titleY[r])
    .attr("text-anchor", "middle")
    .attr("font-family", serif).attr("font-size", 28).attr("fill", "#111")
    .text(t);
});

// stage separators and labels
[265.5, 812.5].forEach(function (xx) {
  svg.append("line").attr("x1", xx).attr("x2", xx).attr("y1", 0).attr("y2", 806)
    .attr("stroke", "#333").attr("stroke-width", 1.2);
});
var stageLabels = ["Evaluation Stage 1", "Evaluation Stage 2", "Evaluation Stage 3"];
var stageX = [150, 536, 1092];
stageLabels.forEach(function (t, i) {
  svg.append("text").attr("x", stageX[i]).attr("y", 795)
    .attr("text-anchor", "middle")
    .attr("font-family", serif).attr("font-size", 28).attr("fill", "#111")
    .text(t);
});

// legend
svg.append("rect").attr("x", 26).attr("y", 806).attr("width", 1304).attr("height", 34)
  .attr("rx", 5).attr("fill", "#fff").attr("stroke", "#b5b5b5").attr("stroke-width", 1);
var legendX = [59, 237.5, 417.5, 696, 911.5, 1115];
seriesNames.forEach(function (n, i) {
  svg.append("rect").attr("x", legendX[i]).attr("y", 820.5).attr("width", 38).attr("height", 6)
    .attr("fill", seriesColors[i]);
  svg.append("text").attr("x", legendX[i] + 51).attr("y", 830)
    .attr("font-family", serif).attr("font-size", 18.5).attr("fill", "#111")
    .text(n);
});
</script>
</body>
</html>
